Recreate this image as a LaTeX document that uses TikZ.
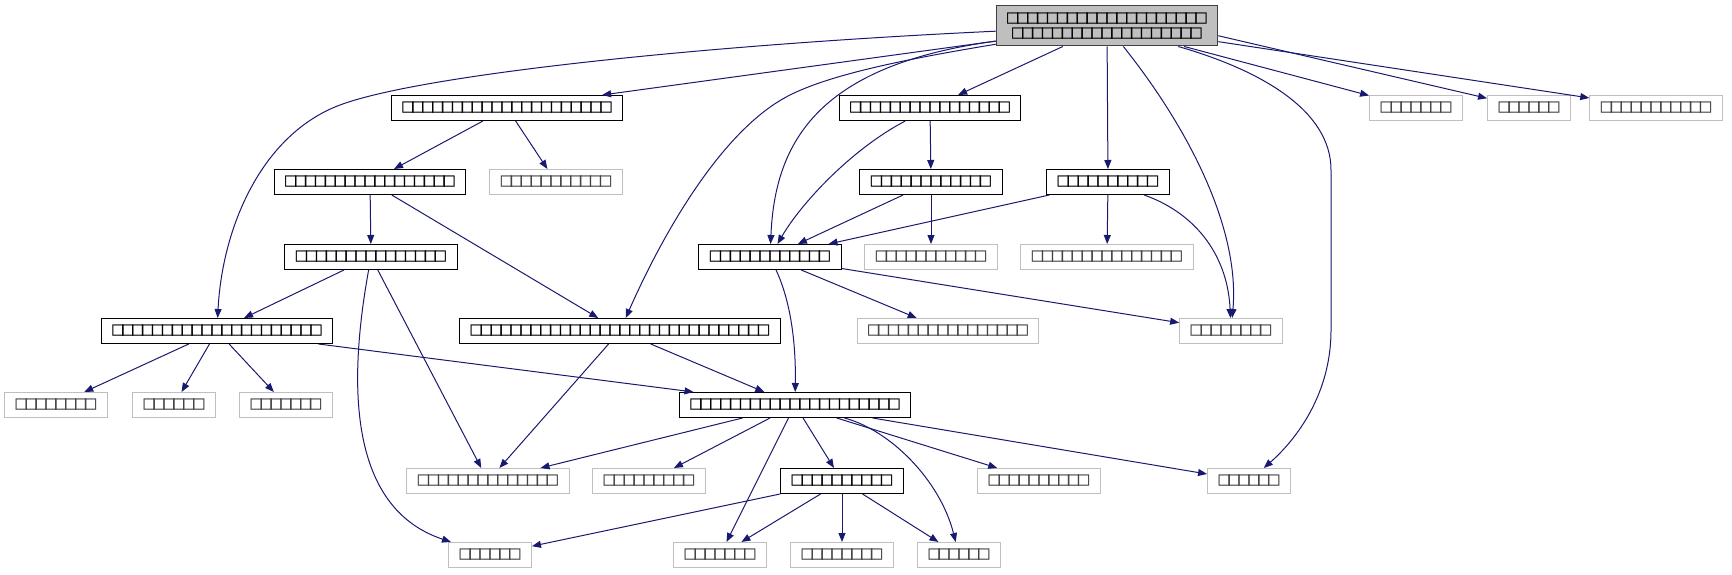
\documentclass[tikz,border=0pt]{standalone}
\usepackage{fontspec}
\usetikzlibrary{arrows.meta}
\newfontfamily\tofufont[LetterSpace=-8.1]{DejaVu Sans Mono}
\definecolor{incedge}{HTML}{191970}
\definecolor{incgray}{HTML}{BFBFBF}
\definecolor{incframe}{HTML}{404040}

\begin{document}
\begin{tikzpicture}[
    x=1pt, y=-1pt,
    every node/.style={align=center, font=\tofufont\fontsize{19}{15.5}\selectfont},
    inc-file/.style={rectangle, draw=black, line width=1pt, fill=white,
        minimum height=25pt, inner xsep=11pt, inner ysep=0pt, text=black},
    inc-ext/.style={inc-file, draw=incgray, text=black!75},
    inc-root/.style={inc-file, draw=incframe, fill=incgray, minimum height=40pt},
    inc-arrow/.style={-{Triangle[length=9pt, width=7pt]}, draw=incedge, line width=1pt},
]
    \useasboundingbox (0,0) rectangle (1732,575);

    % ---- NODES: top file ----
    \node[inc-root] (root) at (1107,26) {□□□□□□□□□□□□□□□□□□□□\\□□□□□□□□□□□□□□□□□□□};

    % ---- NODES: row 1 ----
    \node[inc-file] (r1a) at (507,108)  {□□□□□□□□□□□□□□□□□□□□□};
    \node[inc-file] (r1b) at (930,108)  {□□□□□□□□□□□□□□□□};
    \node[inc-ext]  (r1c) at (1416,108) {□□□□□□□};
    \node[inc-ext]  (r1d) at (1529,108) {□□□□□□};
    \node[inc-ext]  (r1e) at (1656,108) {□□□□□□□□□□□};

    % ---- NODES: row 2 ----
    \node[inc-file] (r2a) at (370,182)  {□□□□□□□□□□□□□□□□□};
    \node[inc-ext]  (r2b) at (556,182)  {□□□□□□□□□□□};
    \node[inc-file] (r2c) at (931,182)  {□□□□□□□□□□□□};
    \node[inc-file] (r2d) at (1108,182) {□□□□□□□□□□};

    % ---- NODES: row 3 ----
    \node[inc-file] (r3a) at (371,257)  {□□□□□□□□□□□□□□□};
    \node[inc-file] (r3b) at (770,257)  {□□□□□□□□□□□□};
    \node[inc-ext]  (r3c) at (931,257)  {□□□□□□□□□□□};
    \node[inc-ext]  (r3d) at (1107,257) {□□□□□□□□□□□□□□□};

    % ---- NODES: row 4 ----
    \node[inc-file] (r4a) at (217,331)  {□□□□□□□□□□□□□□□□□□□□□};
    \node[inc-file] (r4b) at (620,331)  {□□□□□□□□□□□□□□□□□□□□□□□□□□□□□□};
    \node[inc-ext]  (r4c) at (948,331)  {□□□□□□□□□□□□□□□□};
    \node[inc-ext]  (r4d) at (1231,331) {□□□□□□□□};

    % ---- NODES: row 5 ----
    \node[inc-ext]  (r5a) at (56,405)   {□□□□□□□□};
    \node[inc-ext]  (r5b) at (174,405)  {□□□□□□};
    \node[inc-ext]  (r5c) at (286,405)  {□□□□□□□};
    \node[inc-file] (r5d) at (795,405)  {□□□□□□□□□□□□□□□□□□□□□};

    % ---- NODES: row 6 ----
    \node[inc-ext]  (r6a) at (488,481)  {□□□□□□□□□□□□□□};
    \node[inc-ext]  (r6b) at (649,481)  {□□□□□□□□□};
    \node[inc-file] (r6c) at (842,481)  {□□□□□□□□□□};
    \node[inc-ext]  (r6d) at (1039,481) {□□□□□□□□□□};
    \node[inc-ext]  (r6e) at (1249,481) {□□□□□□};

    % ---- NODES: row 7 ----
    \node[inc-ext]  (r7a) at (490,555)  {□□□□□□};
    \node[inc-ext]  (r7b) at (720,555)  {□□□□□□□};
    \node[inc-ext]  (r7c) at (842,555)  {□□□□□□□□};
    \node[inc-ext]  (r7d) at (959,555)  {□□□□□□};

    % ---- ARROWS: from top file ----
    \draw[inc-arrow] (root) -- (r1a);
    \draw[inc-arrow] (root) -- (r1b);
    \draw[inc-arrow] (root) -- (r1c);
    \draw[inc-arrow] (root.-5) -- (r1d);
    \draw[inc-arrow] (root.-8) -- (r1e);
    \draw[inc-arrow] (root) -- (r2d);
    \draw[inc-arrow] (root) .. controls (820,65) and (775,140) .. (r3b);
    \draw[inc-arrow] (root) .. controls (700,45) and (420,75) .. (340,105)
        .. controls (260,135) and (222,230) .. (r4a);
    \draw[inc-arrow] (root) .. controls (900,60) and (830,75) .. (790,95)
        .. controls (720,130) and (660,240) .. (r4b);
    \draw[inc-arrow] (root) .. controls (1190,130) and (1240,230) .. (r4d);
    \draw[inc-arrow] (root) .. controls (1260,70) and (1331,110) .. (1331,170)
        -- (1331,330) .. controls (1331,400) and (1290,445) .. (r6e);

    % ---- ARROWS: rows 1-2 ----
    \draw[inc-arrow] (r1a) -- (r2a);
    \draw[inc-arrow] (r1a) -- (r2b);
    \draw[inc-arrow] (r1b) -- (r2c);
    \draw[inc-arrow] (r1b) .. controls (850,150) and (800,205) .. (r3b);
    \draw[inc-arrow] (r2a) -- (r3a);
    \draw[inc-arrow] (r2a) -- (r4b);
    \draw[inc-arrow] (r2c) -- (r3b);
    \draw[inc-arrow] (r2c) -- (r3c);
    \draw[inc-arrow] (r2d) -- (r3b);
    \draw[inc-arrow] (r2d) -- (r3d);
    \draw[inc-arrow] (r2d) .. controls (1200,215) and (1228,260) .. (r4d);

    % ---- ARROWS: rows 3-4 ----
    \draw[inc-arrow] (r3a) -- (r4a);
    \draw[inc-arrow] (r3a) -- (r6a);
    \draw[inc-arrow] (r3a) .. controls (345,400) and (355,510) .. (r7a);
    \draw[inc-arrow] (r3b) .. controls (790,300) and (796,340) .. (r5d);
    \draw[inc-arrow] (r3b) -- (r4c);
    \draw[inc-arrow] (r3b) -- (r4d);
    \draw[inc-arrow] (r4a) -- (r5a);
    \draw[inc-arrow] (r4a) -- (r5b);
    \draw[inc-arrow] (r4a) -- (r5c);
    \draw[inc-arrow] (r4a) -- (r5d);
    \draw[inc-arrow] (r4b) -- (r5d);
    \draw[inc-arrow] (r4b) -- (r6a);

    % ---- ARROWS: rows 5-6 ----
    \draw[inc-arrow] (r5d) -- (r6a);
    \draw[inc-arrow] (r5d) -- (r6b);
    \draw[inc-arrow] (r5d) -- (r6c);
    \draw[inc-arrow] (r5d) -- (r6d);
    \draw[inc-arrow] (r5d) -- (r6e);
    \draw[inc-arrow] (r5d) -- (r7b);
    \draw[inc-arrow] (r5d) .. controls (890,430) and (940,480) .. (r7d);
    \draw[inc-arrow] (r6c) -- (r7a);
    \draw[inc-arrow] (r6c) -- (r7b);
    \draw[inc-arrow] (r6c) -- (r7c);
    \draw[inc-arrow] (r6c) -- (r7d);

\end{tikzpicture}
\end{document}
